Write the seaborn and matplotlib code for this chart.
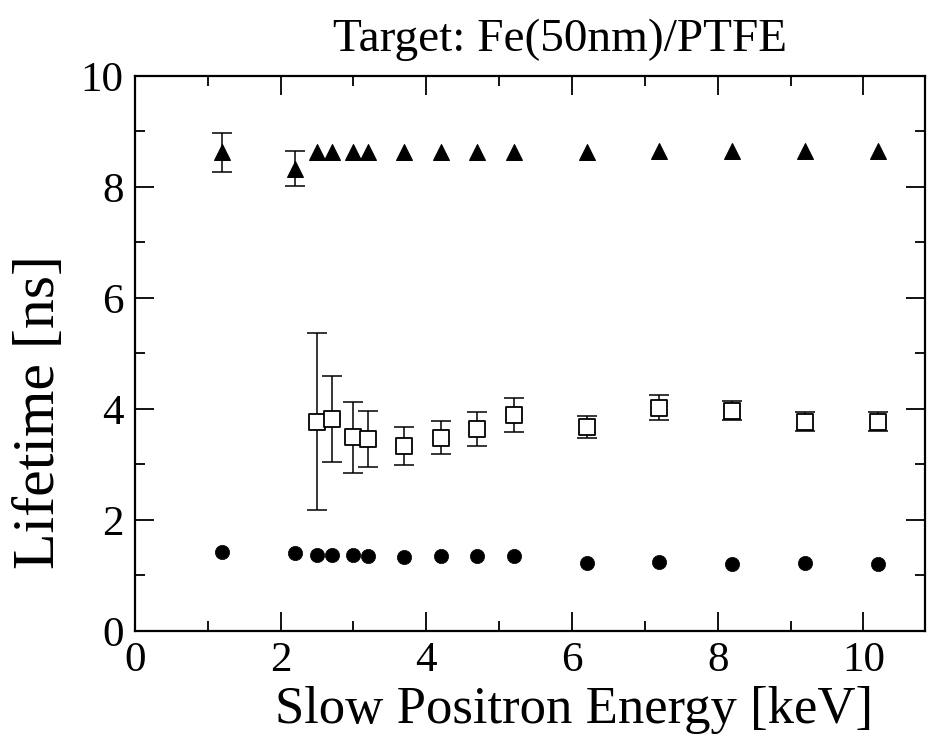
import matplotlib
matplotlib.use("Agg")
import matplotlib.pyplot as plt
from matplotlib.ticker import MultipleLocator
import numpy as np
import pandas as pd
import seaborn as sns

sns.set_style("ticks")
plt.rcParams["font.family"] = ["Liberation Serif", "DejaVu Serif"]
plt.rcParams["text.color"] = "black"
plt.rcParams["axes.labelcolor"] = "black"

# Slow positron energy [keV]
energy = [1.2, 2.2, 2.5, 2.7, 3.0, 3.2, 3.7, 4.2, 4.7, 5.2, 6.2, 7.2, 8.2, 9.2, 10.2]

# Long-lived component (triangles)
tau_long = [8.62, 8.33, 8.62, 8.62, 8.62, 8.62, 8.62, 8.62, 8.63, 8.63, 8.63, 8.64, 8.64, 8.64, 8.64]
tau_long_err = [0.35, 0.32, 0, 0, 0, 0, 0, 0, 0, 0, 0, 0, 0, 0, 0]

# Intermediate component (open squares), starts at 2.5 keV
energy_mid = [2.5, 2.7, 3.0, 3.2, 3.7, 4.2, 4.7, 5.2, 6.2, 7.2, 8.2, 9.2, 10.2]
tau_mid = [3.77, 3.82, 3.49, 3.46, 3.33, 3.48, 3.64, 3.89, 3.68, 4.02, 3.97, 3.77, 3.77]
tau_mid_err = [1.6, 0.78, 0.64, 0.5, 0.35, 0.3, 0.31, 0.3, 0.2, 0.23, 0.18, 0.17, 0.17]

# Short component (filled circles)
tau_short = [1.42, 1.40, 1.37, 1.36, 1.36, 1.35, 1.33, 1.35, 1.34, 1.34, 1.23, 1.24, 1.20, 1.22, 1.20]

df_long = pd.DataFrame({"E": energy, "tau": tau_long, "err": tau_long_err})
df_mid = pd.DataFrame({"E": energy_mid, "tau": tau_mid, "err": tau_mid_err})
df_short = pd.DataFrame({"E": energy, "tau": tau_short})

fig = plt.figure(figsize=(9.3, 7.51), dpi=100)
ax = fig.add_axes([0.145, 0.16, 0.85, 0.739])

# error bars
eb = df_long[df_long["err"] > 0]
ax.errorbar(eb["E"], eb["tau"], yerr=eb["err"], fmt="none", ecolor="black",
            elinewidth=1.1, capsize=7, capthick=1.1, zorder=2)
ax.errorbar(df_mid["E"], df_mid["tau"], yerr=df_mid["err"], fmt="none", ecolor="black",
            elinewidth=1.1, capsize=7, capthick=1.1, zorder=2)

sns.scatterplot(data=df_long, x="E", y="tau", marker="^", s=130, color="black",
                edgecolor="black", linewidth=0.8, ax=ax, zorder=3)
sns.scatterplot(data=df_mid, x="E", y="tau", marker="s", s=120, facecolor="white",
                edgecolor="black", linewidth=1.3, ax=ax, zorder=3)
sns.scatterplot(data=df_short, x="E", y="tau", marker="o", s=105, color="black",
                edgecolor="black", linewidth=0.5, ax=ax, zorder=3)

ax.set_xlim(0, 10.85)
ax.set_ylim(0, 10)
ax.xaxis.set_major_locator(MultipleLocator(2))
ax.xaxis.set_minor_locator(MultipleLocator(1))
ax.yaxis.set_major_locator(MultipleLocator(2))
ax.yaxis.set_minor_locator(MultipleLocator(1))
ax.tick_params(which="both", direction="in", top=True, right=True, width=1.3, colors="black")
ax.tick_params(which="major", length=14, labelsize=31, pad=8)
ax.tick_params(which="minor", length=7)
for sp in ax.spines.values():
    sp.set_linewidth(1.6)
    sp.set_color("black")

ax.set_xlabel("Slow Positron Energy [keV]", fontsize=38, labelpad=4, x=0.556, color="black")
ax.set_ylabel("Lifetime [ns]", fontsize=43, labelpad=10, y=0.395, color="black")
ax.set_title("Target: Fe(50nm)/PTFE", fontsize=34, pad=18, x=0.538, color="black")

fig.savefig("out.png", dpi=100)
